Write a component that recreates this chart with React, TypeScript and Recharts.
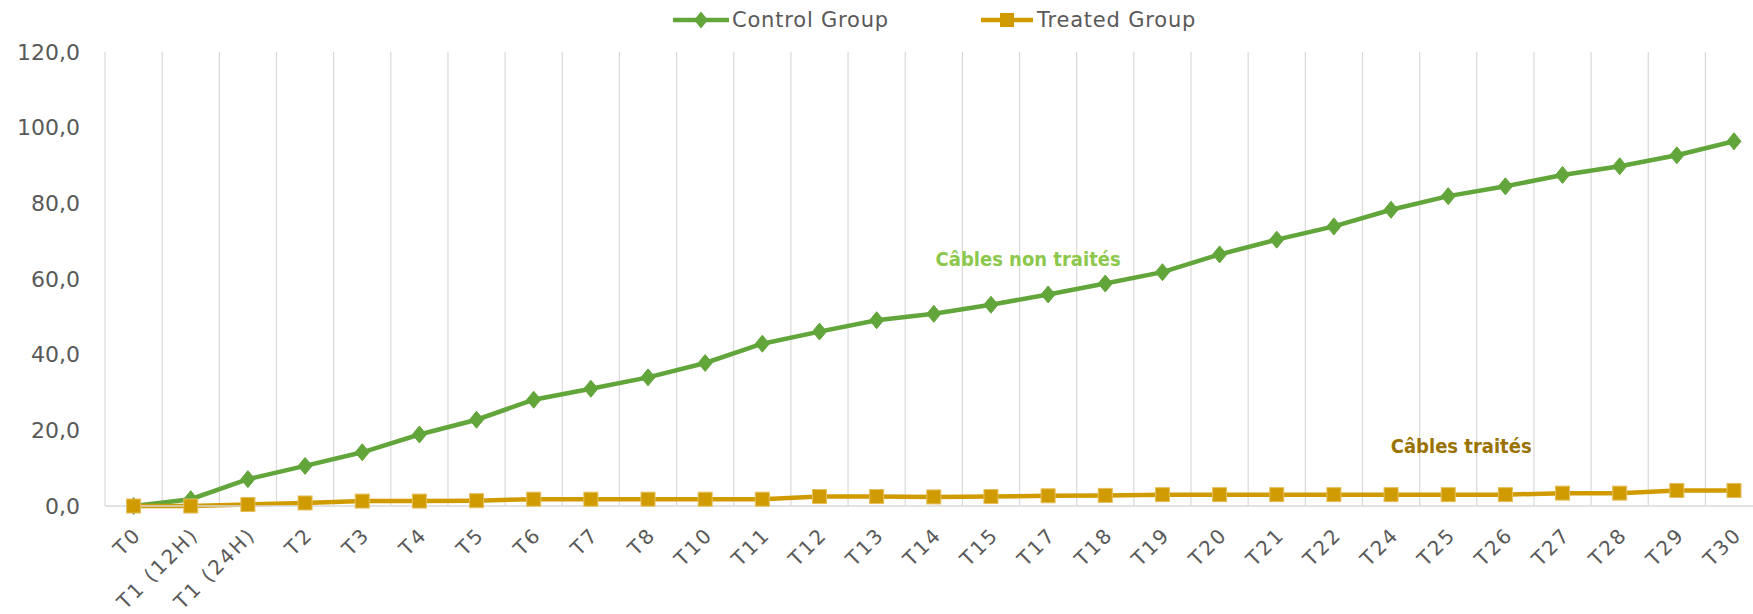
import React from 'react';
import { LineChart, Line, XAxis, YAxis, CartesianGrid, Legend, ReferenceDot } from 'recharts';

const categories = ['T0', 'T1 (12H)', 'T1 (24H)', 'T2', 'T3', 'T4', 'T5', 'T6', 'T7', 'T8', 'T10', 'T11', 'T12', 'T13', 'T14', 'T15', 'T17', 'T18', 'T19', 'T20', 'T21', 'T22', 'T24', 'T25', 'T26', 'T27', 'T28', 'T29', 'T30'];
const controlValues = [0, 1.8, 7.1, 10.6, 14.2, 18.9, 22.8, 28.1, 31.0, 34.0, 37.8, 42.9, 46.1, 49.1, 50.8, 53.2, 55.9, 58.8, 61.8, 66.5, 70.4, 73.9, 78.3, 81.9, 84.5, 87.5, 89.8, 92.7, 96.4];
const treatedValues = [0, 0, 0.4, 0.8, 1.3, 1.3, 1.4, 1.8, 1.8, 1.8, 1.8, 1.8, 2.5, 2.5, 2.4, 2.5, 2.7, 2.8, 3.0, 3.0, 3.0, 3.0, 3.0, 3.0, 3.0, 3.4, 3.4, 4.1, 4.1];
const yTicks = [0, 20, 40, 60, 80, 100, 120];
const seriesNames = ['Control Group', 'Treated Group'];
const annotationTexts = ['Câbles non traités', 'Câbles traités'];

const GREEN = '#62A53A';
const GOLD = '#D09B00';
const FONT = '"DejaVu Sans", sans-serif';
const PAD_L = 28.6;
const PAD_R = 19;

const data = categories.map((c, i) => ({ cat: c, control: controlValues[i], treated: treatedValues[i] }));

const Diamond = (props: any) => {
  const { cx, cy } = props;
  if (cx == null || cy == null) return null;
  return <polygon points={`${cx},${cy - 8.5} ${cx + 7},${cy} ${cx},${cy + 8.5} ${cx - 7},${cy}`} fill={GREEN} stroke={GREEN} strokeWidth={1} />;
};

const Square = (props: any) => {
  const { cx, cy } = props;
  if (cx == null || cy == null) return null;
  return <rect x={cx - 7} y={cy - 7} width={14} height={14} fill={GOLD} stroke="#E6BF5C" strokeWidth={1} />;
};

const XTick = (props: any) => {
  const { x, y, payload } = props;
  return (
    <g transform={`translate(${x + 4},${y + 17})`}>
      <text x={0} y={0} dy="0.35em" textAnchor="end" transform="rotate(-45)" fill="#595959" fontSize={20} fontFamily={FONT} letterSpacing={2.2}>
        {payload.value}
      </text>
    </g>
  );
};

const renderLegend = () => (
  <div style={{ position: 'relative', width: 1753, height: 40, fontFamily: FONT, fontSize: 21, color: '#595959' }}>
    <div style={{ position: 'absolute', left: 673, top: 8, display: 'flex', alignItems: 'center' }}>
      <svg width={56} height={20}>
        <line x1={0} y1={10} x2={56} y2={10} stroke={GREEN} strokeWidth={4.5} />
        <polygon points="28,1.5 35,10 28,18.5 21,10" fill={GREEN} />
      </svg>
      <span style={{ marginLeft: 3, letterSpacing: 0.8 }}>{seriesNames[0]}</span>
      <svg width={52} height={20} style={{ marginLeft: 92 }}>
        <line x1={0} y1={10} x2={52} y2={10} stroke={GOLD} strokeWidth={4.5} />
        <rect x={19} y={3} width={14} height={14} fill={GOLD} />
      </svg>
      <span style={{ marginLeft: 4, letterSpacing: 0.8 }}>{seriesNames[1]}</span>
    </div>
  </div>
);

const makeLabel = (text: string, color: string, dx: number) => (props: any) => {
  const { viewBox } = props;
  const cx = viewBox.x + viewBox.width / 2 + dx;
  const cy = viewBox.y + viewBox.height / 2;
  return (
    <text x={cx} y={cy} dy="0.35em" textAnchor="middle" fill={color} fontWeight="bold" fontSize={20}
      fontFamily='"DejaVu Sans Condensed", "DejaVu Sans", sans-serif' fontStretch="condensed">
      {text}
    </text>
  );
};

const gridGenerator = ({ offset }: any) => {
  const n = categories.length;
  const step = (offset.width - PAD_L - PAD_R) / (n - 1);
  const out: number[] = [];
  for (let i = 0; i < n; i++) out.push(offset.left + PAD_L + (i - 0.5) * step);
  return out;
};

export default function App() {
  return (
    <div style={{ position: 'absolute', left: 0, top: 0, width: 1753, height: 614, background: '#fff' }}>
      <LineChart width={1753} height={614} data={data} margin={{ top: 52, right: 0, bottom: 0, left: 0 }}>
        <CartesianGrid horizontal={false} vertical={true} stroke="#D9D9D9" strokeWidth={1.2} verticalCoordinatesGenerator={gridGenerator} />
        <XAxis dataKey="cat" interval={0} tick={<XTick />} tickLine={false} padding={{ left: PAD_L, right: PAD_R }}
          axisLine={{ stroke: '#D9D9D9', strokeWidth: 1.5 }} height={108} />
        <YAxis domain={[0, 120]} ticks={yTicks} width={105} tickSize={0} tickMargin={25} axisLine={false} tickLine={false}
          tickFormatter={(v: number) => v.toFixed(1).replace('.', ',')}
          tick={{ fill: '#595959', fontSize: 22, fontFamily: FONT }} />
        <Legend verticalAlign="middle" align="center" layout="horizontal" wrapperStyle={{ top: 0, left: 0, width: 1753 }} content={renderLegend} />
        <Line type="linear" dataKey="control" name={seriesNames[0]} stroke={GREEN} strokeWidth={4.5} dot={<Diamond />} activeDot={false} isAnimationActive={false} />
        <Line type="linear" dataKey="treated" name={seriesNames[1]} stroke={GOLD} strokeWidth={4.5} dot={<Square />} activeDot={false} isAnimationActive={false} />
        <ReferenceDot x="T17" y={65.3} r={1} fill="none" stroke="none" label={makeLabel(annotationTexts[0], '#8CC84B', -20)} />
        <ReferenceDot x="T25" y={15.9} r={1} fill="none" stroke="none" label={makeLabel(annotationTexts[1], '#9A7200', 13)} />
      </LineChart>
    </div>
  );
}
